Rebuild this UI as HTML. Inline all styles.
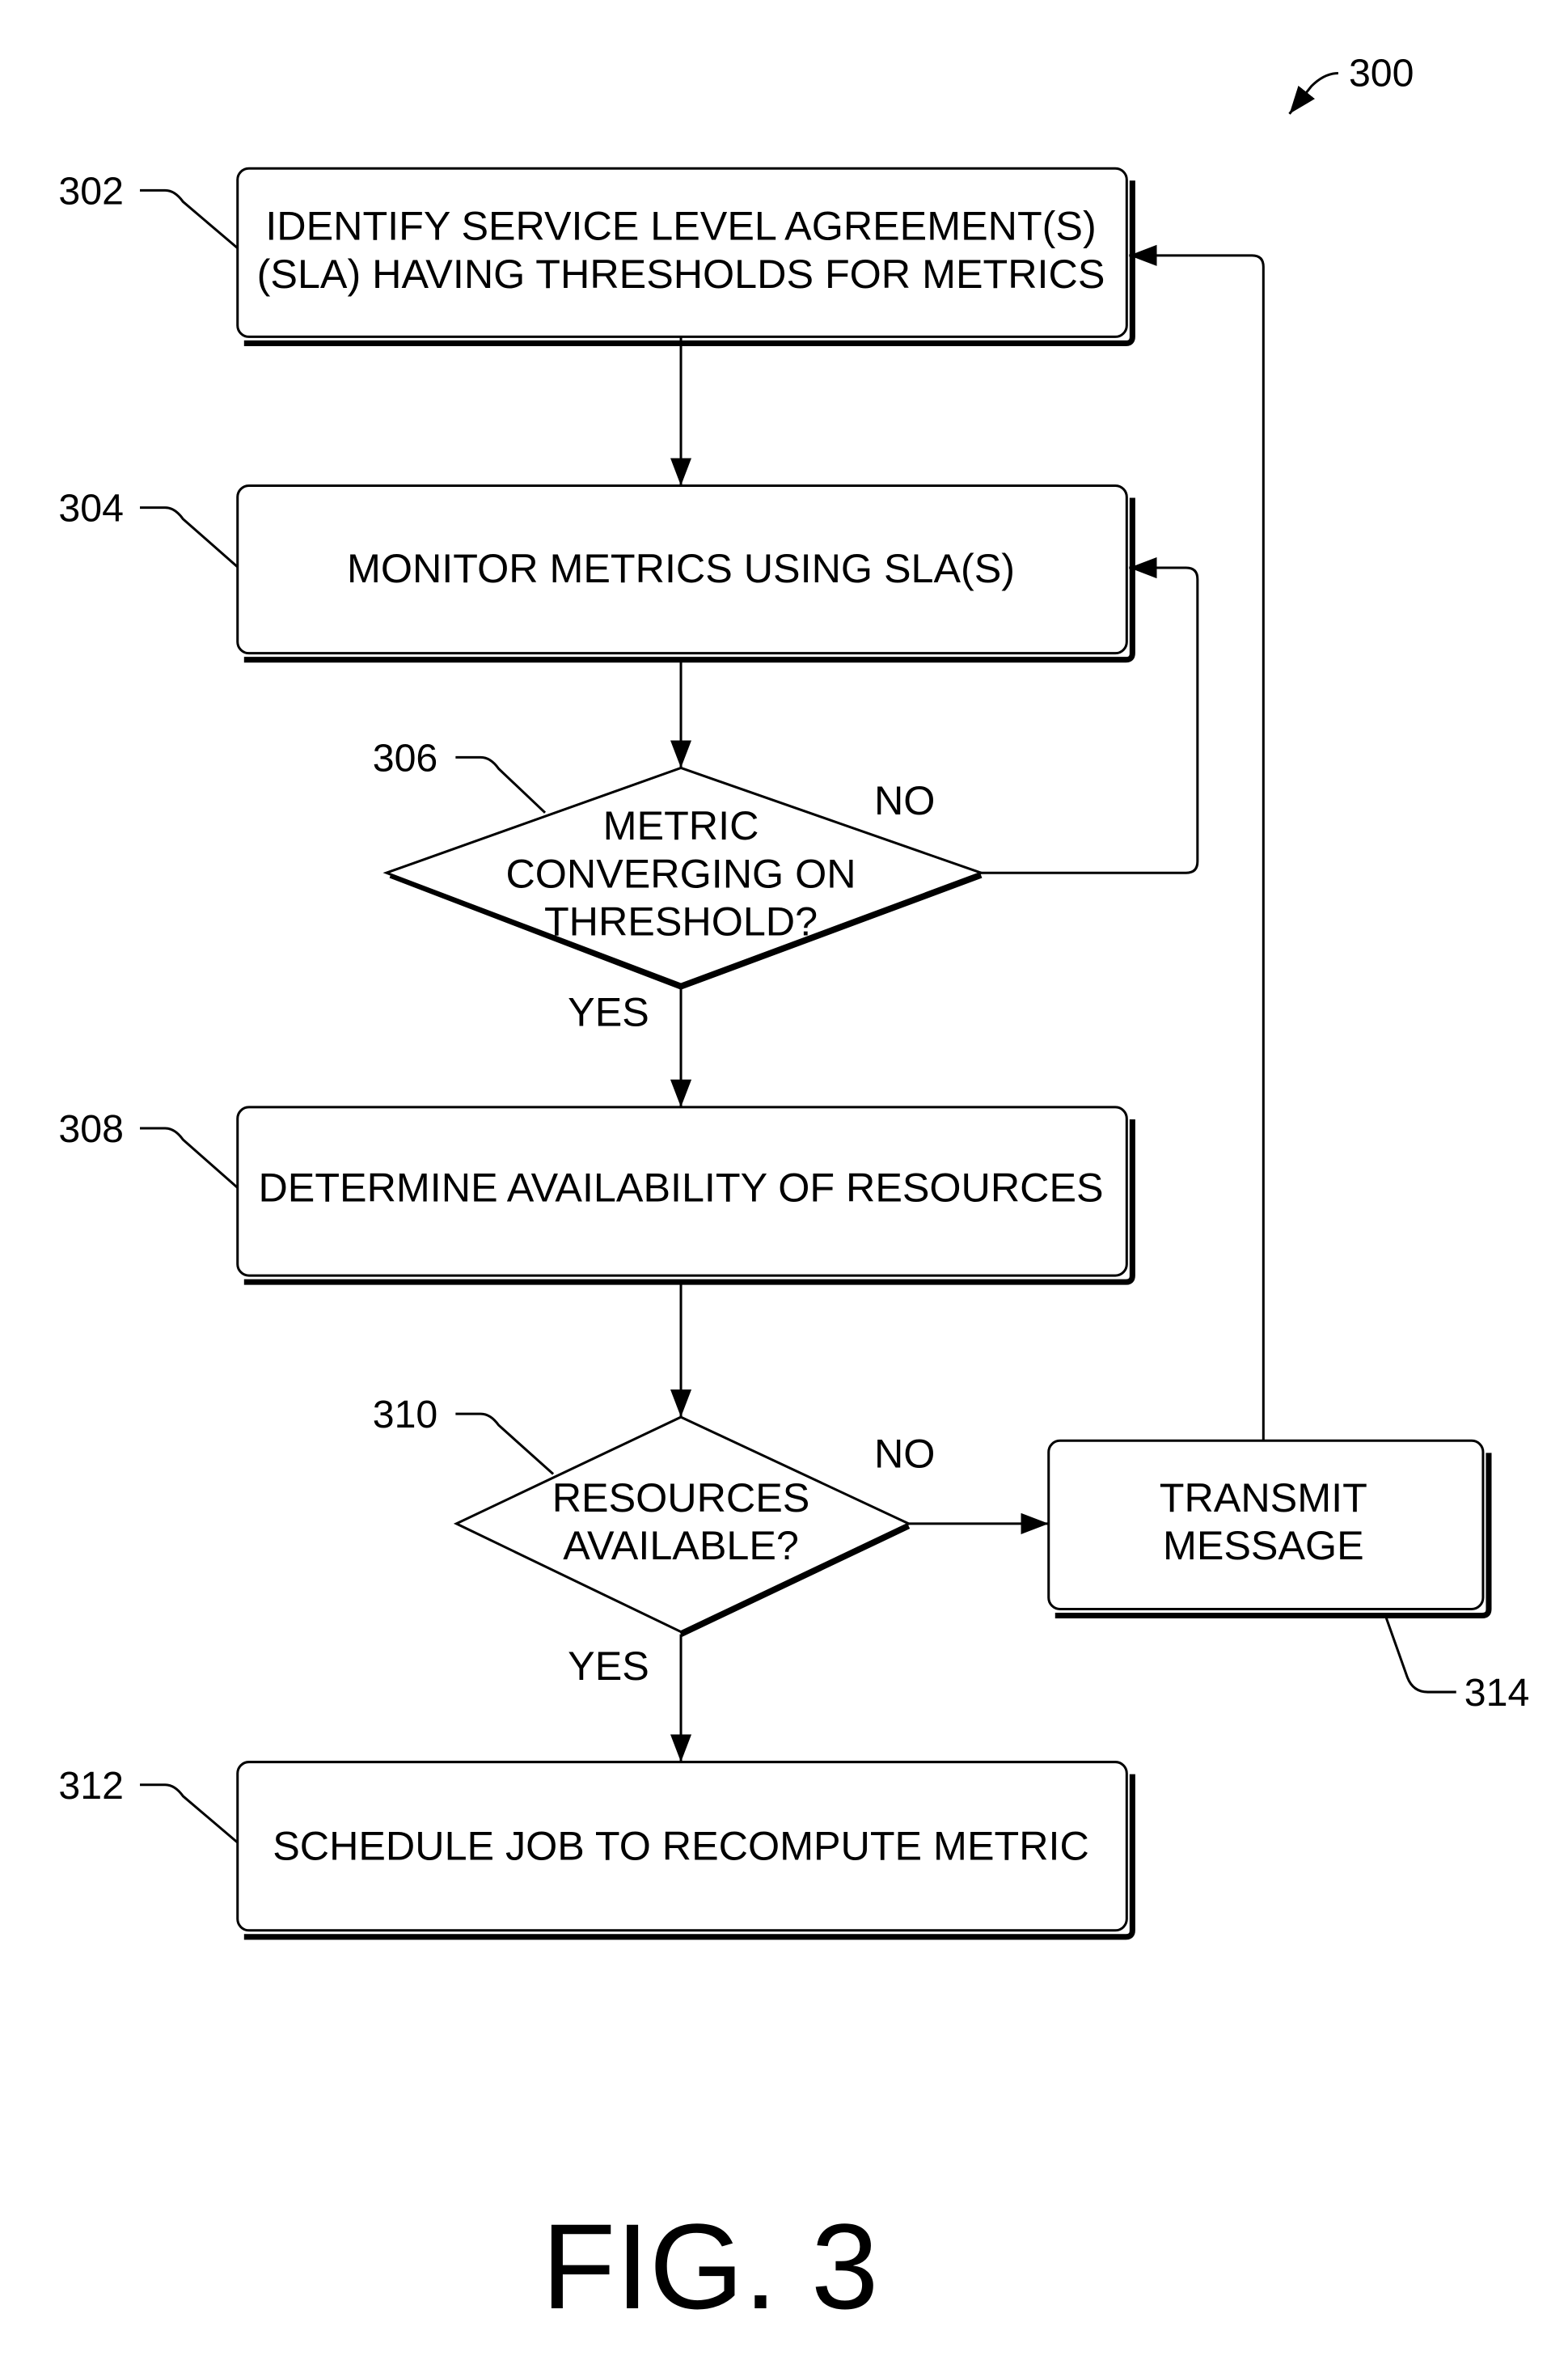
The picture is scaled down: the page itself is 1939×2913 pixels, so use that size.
<!DOCTYPE html>
<html><head><meta charset="utf-8"><style>html,body{margin:0;padding:0;background:#fff}svg{display:block}</style></head>
<body>
<svg width="1939" height="2913" viewBox="0 0 1939 2913" xmlns="http://www.w3.org/2000/svg" font-family="Liberation Sans, Arial, sans-serif">
<defs>
<marker id="b" markerWidth="34" markerHeight="26" refX="34" refY="13" orient="auto" markerUnits="userSpaceOnUse"><path d="M0,0 L34,13 L0,26 z" fill="#000"/></marker></defs>
<g transform="scale(1.006,1.0058)">
<g fill="none" stroke="#000">
<g stroke-width="7">
<path d="M1392,222 V414 Q1392,422 1384,422 H300"/>
<path d="M1392,612 V803 Q1392,811 1384,811 H300"/>
<path d="M1392,1376 V1568 Q1392,1576 1384,1576 H300"/>
<path d="M1392,2181 V2373 Q1392,2381 1384,2381 H300"/>
<path d="M1830,1786 V1978 Q1830,1986 1822,1986 H1297"/>
<path d="M480,1076 L837,1213 L1206,1076"/>
<path d="M837,2009 L1117,1876"/>
</g>
<g stroke-width="3" fill="#fff">
<rect x="292" y="207" width="1093" height="207" rx="14"/>
<rect x="292" y="597" width="1093" height="206" rx="14"/>
<rect x="292" y="1361" width="1093" height="207" rx="14"/>
<rect x="292" y="2166" width="1093" height="207" rx="14"/>
<rect x="1289" y="1771" width="534" height="207" rx="14"/>
<polygon points="837,944 1206,1073 837,1210 475,1073"/>
<polygon points="837,1742 1117,1873 837,2006 561,1873"/>
</g>
<g stroke-width="3">
<line x1="837" y1="414" x2="837" y2="597" marker-end="url(#b)"/>
<line x1="837" y1="811" x2="837" y2="944" marker-end="url(#b)"/>
<line x1="837" y1="1213" x2="837" y2="1361" marker-end="url(#b)"/>
<line x1="837" y1="1576" x2="837" y2="1742" marker-end="url(#b)"/>
<line x1="837" y1="2009" x2="837" y2="2166" marker-end="url(#b)"/>
<line x1="1117" y1="1873" x2="1289" y2="1873" marker-end="url(#b)"/>
<path d="M1206,1073 H1458 Q1472,1073 1472,1059 V712 Q1472,698 1458,698 H1388" marker-end="url(#b)"/>
<path d="M1553,1771 V328 Q1553,314 1539,314 H1388" marker-end="url(#b)"/>
<path d="M172,234 H203 Q215,234 225,248 L292,305"/>
<path d="M172,624 H203 Q215,624 225,638 L292,697"/>
<path d="M560,931 H591 Q603,931 613,945 L670,999"/>
<path d="M172,1387 H203 Q215,1387 225,1401 L292,1460"/>
<path d="M560,1738 H591 Q603,1738 613,1752 L680,1812"/>
<path d="M172,2194 H203 Q215,2194 225,2208 L292,2265"/>
<path d="M1703,1986 L1730,2062 Q1737,2080 1755,2080 H1790"/>
<path d="M1645,90 Q1628,90 1612,106 L1585,140" marker-end="url(#b)"/>
</g>
</g>
<g font-size="50" text-anchor="middle" fill="#000">
<text x="837" y="295">IDENTIFY SERVICE LEVEL AGREEMENT(S)</text>
<text x="837" y="354">(SLA) HAVING THRESHOLDS FOR METRICS</text>
<text x="837" y="716">MONITOR METRICS USING SLA(S)</text>
<text x="837" y="1032">METRIC</text>
<text x="837" y="1091">CONVERGING ON</text>
<text x="837" y="1150">THRESHOLD?</text>
<text x="837" y="1477">DETERMINE AVAILABILITY OF RESOURCES</text>
<text x="837" y="1858">RESOURCES</text>
<text x="837" y="1917">AVAILABLE?</text>
<text x="1553" y="1858">TRANSMIT</text>
<text x="1553" y="1917">MESSAGE</text>
<text x="837" y="2286">SCHEDULE JOB TO RECOMPUTE METRIC</text>
<text x="1112" y="1001">NO</text>
<text x="748" y="1261">YES</text>
<text x="1112" y="1804">NO</text>
<text x="748" y="2065">YES</text>
</g>
<g font-size="48" fill="#000">
<text x="72" y="251">302</text>
<text x="72" y="641">304</text>
<text x="458" y="948">306</text>
<text x="72" y="1404">308</text>
<text x="458" y="1755">310</text>
<text x="72" y="2211">312</text>
<text x="1800" y="2097">314</text>
<text x="1658" y="106">300</text>
</g>
</g>
<text x="878" y="2854" font-size="150" text-anchor="middle">FIG. 3</text>
</svg>
</body></html>
